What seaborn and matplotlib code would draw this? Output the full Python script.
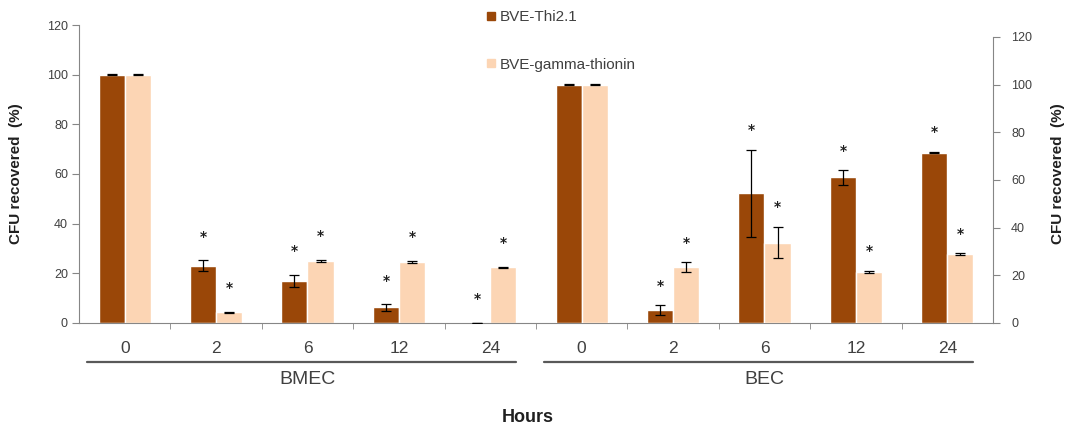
import numpy as np
import pandas as pd
import matplotlib
matplotlib.use('Agg')
import matplotlib.pyplot as plt
import matplotlib.transforms as mtransforms
from matplotlib.lines import Line2D
import seaborn as sns

sns.set_style('white')
plt.rcParams['font.family'] = ['Liberation Sans Narrow', 'Liberation Sans', 'DejaVu Sans']

# Data
hours = ['0', '2', '6', '12', '24']
groups = ['BMEC', 'BEC']
series = ['BVE-Thi2.1', 'BVE-gamma-thionin']

bmec_thi = [100, 23.0, 17.0, 6.3, 0.0]
bmec_thi_err = [0.3, 2.2, 2.5, 1.3, 0.0]
bmec_gamma = [100, 4.3, 25.0, 24.6, 22.4]
bmec_gamma_err = [0.3, 0.3, 0.4, 0.4, 0.3]
bmec_thi_sig = [False, True, True, True, True]
bmec_gamma_sig = [False, True, True, True, True]

bec_thi = [100, 5.5, 54.4, 61.1, 71.5]
bec_thi_err = [0.3, 2.0, 18.3, 3.1, 0.4]
bec_gamma = [100, 23.6, 33.7, 21.5, 29.0]
bec_gamma_err = [0.3, 2.0, 6.6, 0.5, 0.3]
bec_thi_sig = [False, True, True, True, True]
bec_gamma_sig = [False, True, True, True, True]

dark = '#9A4708'
light = '#FCD5B4'
axis_col = '#868686'
text_col = '#404040'

cats = [f'{g}|{h}' for g in groups for h in hours]


def make_df(group, thi, gamma):
    rows = []
    for h, v in zip(hours, thi):
        rows.append((f'{group}|{h}', series[0], v))
    for h, v in zip(hours, gamma):
        rows.append((f'{group}|{h}', series[1], v))
    return pd.DataFrame(rows, columns=['cat', 'series', 'value'])


df_bmec = make_df('BMEC', bmec_thi, bmec_gamma)
df_bec = make_df('BEC', bec_thi, bec_gamma)

fig = plt.figure(figsize=(10.66, 4.26), dpi=100)
ax = fig.add_axes([0.0741, 0.2418, 0.8574, 0.6995])
ax2 = ax.twinx()

palette = {series[0]: dark, series[1]: light}
bar_w = 0.57
sns.barplot(data=df_bmec, x='cat', y='value', hue='series', order=cats,
            hue_order=series, palette=palette, width=bar_w, errorbar=None,
            saturation=1, legend=False, ax=ax)
sns.barplot(data=df_bec, x='cat', y='value', hue='series', order=cats,
            hue_order=series, palette=palette, width=bar_w, errorbar=None,
            saturation=1, legend=False, ax=ax2)


def add_errors(axis, base, vals, errs, sigs, shift, star_off):
    xs = np.arange(len(vals)) + base + shift
    axis.errorbar(xs, vals, yerr=errs, fmt='none', ecolor='black',
                  elinewidth=0.9, capsize=3.5, capthick=0.9, zorder=5)
    for x, v, e, s in zip(xs, vals, errs, sigs):
        if s:
            axis.annotate('*', xy=(x, v + e), xytext=(0, star_off),
                          textcoords='offset points', ha='center', va='center',
                          fontsize=10, fontweight='bold', color='#202020',
                          family='DejaVu Sans')


off = bar_w / 4
add_errors(ax, 0, bmec_thi, bmec_thi_err, bmec_thi_sig, -off, 17)
add_errors(ax, 0, bmec_gamma, bmec_gamma_err, bmec_gamma_sig, off, 17)
add_errors(ax2, 5, bec_thi, bec_thi_err, bec_thi_sig, -off, 14)
add_errors(ax2, 5, bec_gamma, bec_gamma_err, bec_gamma_sig, off, 14)

# axes limits and spines
ax.set_xlim(-0.5, len(cats) - 0.5)
ax.set_ylim(0, 120)
ax2.set_ylim(0, 125)
ax.set_yticks(np.arange(0, 121, 20))
ax2.set_yticks(np.arange(0, 121, 20))

for a in (ax, ax2):
    for sp in a.spines.values():
        sp.set_visible(False)
    a.set_xlabel('')
    a.set_ylabel('')
ax.spines['left'].set_visible(True)
ax.spines['left'].set_color(axis_col)
ax.spines['bottom'].set_visible(True)
ax.spines['bottom'].set_color(axis_col)
ax2.spines['right'].set_visible(True)
ax2.spines['right'].set_color(axis_col)
ax2.spines['right'].set_bounds(0, 120)

ax.tick_params(axis='y', direction='out', length=5, color=axis_col,
               labelsize=9, labelcolor=text_col, pad=3)
ax2.tick_params(axis='y', direction='out', length=5, color=axis_col,
                labelsize=9, labelcolor=text_col, pad=8)
for lab in ax.get_yticklabels() + ax2.get_yticklabels():
    lab.set_family(['Liberation Sans', 'DejaVu Sans'])

# x labels: hour labels at bar pairs, boundary ticks between categories
ax.set_xticks(np.arange(len(cats)))
ax.set_xticklabels(hours * len(groups))
ax.tick_params(axis='x', which='major', length=0, pad=13, labelsize=12.5,
               labelcolor=text_col, bottom=True)
ax.set_xticks(np.arange(len(cats) - 1) + 0.5, minor=True)
ax.tick_params(axis='x', which='minor', direction='out', length=4,
               color=axis_col, bottom=True)

ax.set_ylabel('CFU recovered  (%)', fontsize=11, fontweight='bold',
              color='#202020', family='Liberation Sans', labelpad=17)
ax2.set_ylabel('CFU recovered  (%)', fontsize=11, fontweight='bold',
               color='#202020', family='Liberation Sans', labelpad=14,
               rotation=90)

# group labels with underline
trans = mtransforms.blended_transform_factory(ax.transData, fig.transFigure)
for gi, g in enumerate(groups):
    start = gi * len(hours)
    x0 = start - 0.41
    x1 = start + len(hours) - 0.72
    ax.plot([x0, x1], [1 - 362 / 426] * 2, color='#595959', lw=1.6,
            transform=trans, clip_on=False)
    ax.text(start + (len(hours) - 1) / 2, 1 - 380 / 426, g, transform=trans,
            ha='center', va='center', fontsize=14, color=text_col)

fig.text(0.5 - 0.005, 1 - 417 / 426, 'Hours', ha='center', va='center',
         fontsize=13, fontweight='bold', color='#202020',
         family='Liberation Sans')

# legend
handles = [Line2D([], [], marker='s', color='none', markerfacecolor=c,
                  markeredgecolor=c, markersize=6) for c in (dark, light)]
fig.legend(handles, series, loc='upper left',
           bbox_to_anchor=(480 / 1066, 1 - 4 / 426), frameon=False,
           fontsize=11, labelcolor=text_col, handlelength=0.6,
           handletextpad=0.3, labelspacing=2.2, borderaxespad=0)

fig.savefig('out.png', dpi=100)
